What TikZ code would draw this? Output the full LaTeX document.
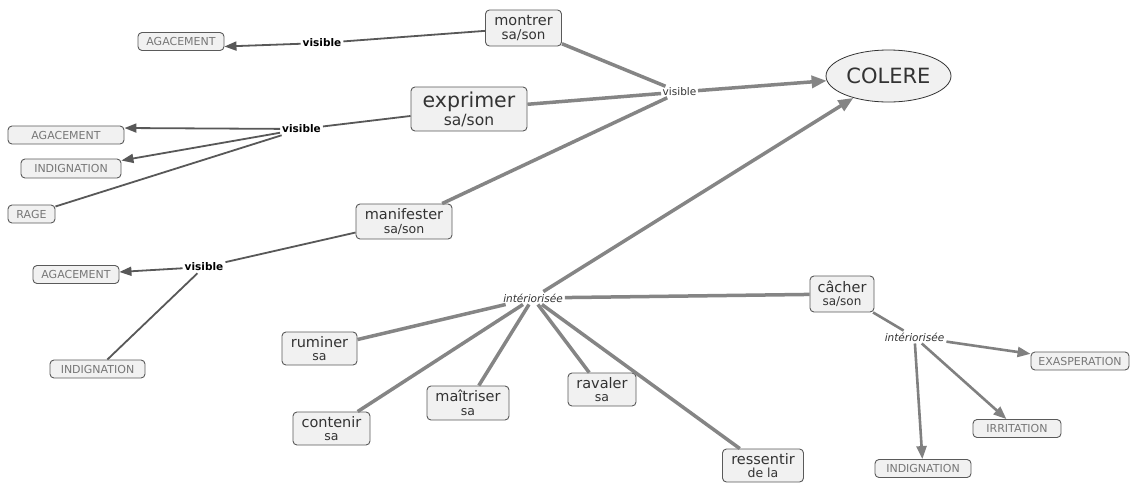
\documentclass[tikz,border=0pt]{standalone}
\usepackage{fontspec}
\setmainfont{DejaVu Sans}
\usetikzlibrary{arrows.meta,shapes.geometric}
\definecolor{maingray}{HTML}{858585}
\definecolor{darkline}{HTML}{585858}
\definecolor{midgray}{HTML}{808080}
\definecolor{boxfill}{HTML}{F1F1F1}
\definecolor{boxedge}{HTML}{5A5A5A}
\definecolor{txt}{HTML}{333333}
\definecolor{captxt}{HTML}{777777}
\newcommand{\firstline}{\fontsize{14.5}{15}\selectfont}
\newcommand{\secondline}{\fontsize{12.5}{13}\selectfont}
\tikzset{
  concept/.style={draw=boxedge, fill=boxfill, rounded corners=4pt, line width=0.9pt,
    inner sep=0pt, align=center, text=txt},
  caplabel/.style={concept, font=\fontsize{11}{12}\selectfont, text=captxt, minimum height=18pt},
  linkb/.style={font=\bfseries\fontsize{10.5}{12}\selectfont, inner sep=2pt, text=black},
  linkp/.style={font=\fontsize{10.5}{12}\selectfont, inner sep=1.5pt, text=txt},
  linki/.style={font=\itshape\fontsize{10.5}{12}\selectfont, inner sep=2pt, text=txt},
  mainline/.style={draw=maingray, line width=3.5pt},
  mainarrow/.style={mainline, -{Triangle[length=15pt,width=12pt]}},
  thinline/.style={draw=darkline, line width=1.8pt},
  thinarrow/.style={thinline, -{Triangle[length=12pt,width=9pt]}},
  midline/.style={draw=midgray, line width=2.6pt},
  midarrow/.style={midline, -{Triangle[length=13pt,width=10pt]}}
}
\begin{document}
\begin{tikzpicture}[x=1pt,y=-1pt]
\useasboundingbox[fill=white] (0,0) rectangle (1130,483);

% concepts
\node[concept, minimum width=76pt, minimum height=36pt] (montrer) at (523.5,28)
  {\firstline montrer\\[1.5pt]\fontsize{13.5}{14}\selectfont sa/son};
\node[concept, minimum width=116pt, minimum height=44pt] (exprimer) at (469,109)
  {\fontsize{20.5}{21}\selectfont exprimer\\[1.5pt]\fontsize{15.5}{16}\selectfont sa/son};
\node[concept, minimum width=96pt, minimum height=35pt] (manifester) at (404,221.5)
  {\firstline manifester\\[1.5pt]\secondline sa/son};
\node[draw=txt, fill=boxfill, ellipse, line width=0.8pt, inner sep=0pt,
  minimum width=125pt, minimum height=52pt, text=txt,
  font=\fontsize{21}{22}\selectfont] (colere) at (888.5,76) {COLERE};
\node[concept, minimum width=75pt, minimum height=33pt] (ruminer) at (319.5,348.5)
  {\firstline ruminer\\[1.5pt]\secondline sa};
\node[concept, minimum width=77pt, minimum height=33pt] (contenir) at (331.5,428.5)
  {\firstline contenir\\[1.5pt]\secondline sa};
\node[concept, minimum width=82pt, minimum height=34pt] (maitriser) at (468,403)
  {\firstline maîtriser\\[1.5pt]\secondline sa};
\node[concept, minimum width=68pt, minimum height=33pt] (ravaler) at (602,389.5)
  {\firstline ravaler\\[1.5pt]\secondline sa};
\node[concept, minimum width=81pt, minimum height=33pt] (ressentir) at (763,465.5)
  {\firstline ressentir\\[1.5pt]\secondline de la};
\node[concept, minimum width=64pt, minimum height=36pt] (cacher) at (842,294)
  {\firstline câcher\\[1.5pt]\fontsize{12}{13}\selectfont sa/son};

% capital labels
\node[caplabel, minimum width=86pt] (aga1) at (181,41.5) {AGACEMENT};
\node[caplabel, minimum width=116pt] (aga2) at (66,135) {AGACEMENT};
\node[caplabel, minimum width=100pt, minimum height=19pt] (ind1) at (71,168.5) {INDIGNATION};
\node[caplabel, minimum width=47pt] (rage) at (31.5,214) {RAGE};
\node[caplabel, minimum width=86pt] (aga3) at (76,274.5) {AGACEMENT};
\node[caplabel, minimum width=95pt] (ind2) at (97.5,369) {INDIGNATION};
\node[caplabel, minimum width=98pt] (exas) at (1080,361) {EXASPERATION};
\node[caplabel, minimum width=88pt] (irr) at (1017,428.5) {IRRITATION};
\node[caplabel, minimum width=96pt] (ind3) at (923,468.5) {INDIGNATION};

% linking phrases
\node[linkb] (v1) at (322,43) {visible};
\node[linkb] (v3) at (301.5,129) {visible};
\node[linkb] (v4) at (204,267) {visible};
\node[linkp] (v2) at (679.5,92) {visible};
\node[linki] (int1) at (533,298) {intériorisée};
\node[linki] (int2) at (914.5,337) {intériorisée};

% dark connectors
\draw[thinline] (montrer) -- (v1);
\draw[thinarrow] (v1) -- ([yshift=-5pt]aga1.east);
\draw[thinline] (exprimer) -- (v3);
\draw[thinarrow] (v3) -- ([yshift=7pt]aga2.east);
\draw[thinarrow] (v3) -- ([yshift=8pt]ind1.east);
\draw[thinline] (v3) -- (rage);
\draw[thinline] (manifester) -- (v4);
\draw[thinarrow] (v4) -- (aga3);
\draw[thinline] (v4) -- (ind2);

% main connectors
\draw[mainline] (montrer) -- (v2);
\draw[mainline] (exprimer) -- (v2);
\draw[mainline] (manifester) -- (v2);
\draw[mainarrow] (v2) -- (colere);
\draw[mainarrow] (int1) -- (colere);
\draw[mainline] (ruminer) -- (int1);
\draw[mainline] (contenir) -- (int1);
\draw[mainline] (maitriser) -- (int1);
\draw[mainline] (ravaler) -- (int1);
\draw[mainline] (ressentir) -- (int1);
\draw[mainline] (cacher) -- (int1);

% right group
\draw[midline] (cacher) -- (int2);
\draw[midarrow] (int2) -- (exas);
\draw[midarrow] (int2) -- (irr);
\draw[midarrow] (int2) -- (ind3);
\end{tikzpicture}
\end{document}
